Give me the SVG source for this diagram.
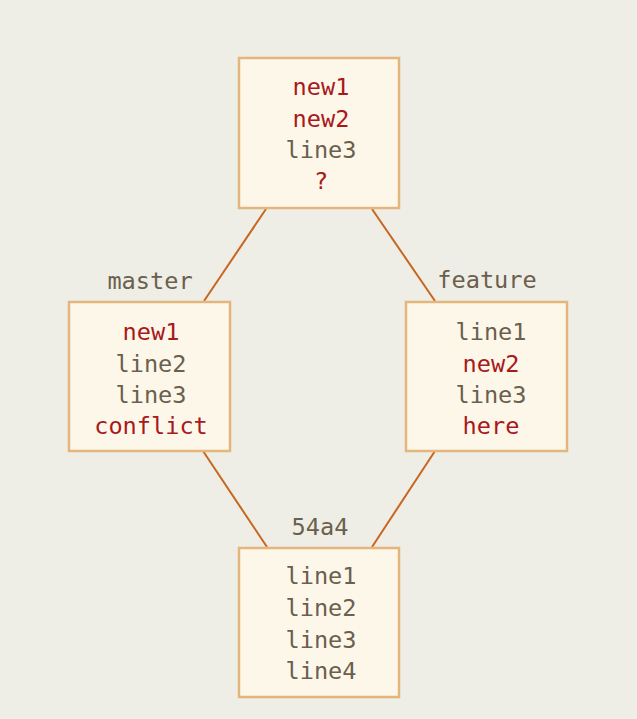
<svg xmlns="http://www.w3.org/2000/svg" width="637" height="719" viewBox="0 0 637 719">
<style>
.box{fill:#fdf7ea;stroke:#e4b67d;stroke-width:2.5}
text{font-family:"DejaVu Sans Mono","Liberation Mono",monospace;font-size:23.6px;text-anchor:middle}
.g{fill:#6b5f4e}
.r{fill:#a8191c}
.edge{stroke:#c8661f;stroke-width:2;fill:none}
</style>
<rect width="637" height="719" fill="#eeeee7"/>
<g id="connectors">
<line class="edge" x1="266" y1="209" x2="204" y2="301"/>
<line class="edge" x1="372" y1="209" x2="435" y2="301"/>
<line class="edge" x1="203" y1="451" x2="267" y2="547"/>
<line class="edge" x1="435" y1="451" x2="372" y2="547"/>
</g>
<g id="merge">
<rect class="box" x="239" y="58" width="160" height="150"/>
<text class="r" x="321" y="95">new1</text>
<text class="r" x="321" y="127">new2</text>
<text class="g" x="321" y="158">line3</text>
<text class="r" x="321" y="189">?</text>
</g>
<g id="master">
<text class="g" x="150" y="289">master</text>
<rect class="box" x="69" y="302" width="161" height="149"/>
<text class="r" x="151" y="340">new1</text>
<text class="g" x="151" y="372">line2</text>
<text class="g" x="151" y="403">line3</text>
<text class="r" x="151" y="434">conflict</text>
</g>
<g id="feature">
<text class="g" x="487" y="288">feature</text>
<rect class="box" x="406" y="302" width="161" height="149"/>
<text class="g" x="491" y="340">line1</text>
<text class="r" x="491" y="372">new2</text>
<text class="g" x="491" y="403">line3</text>
<text class="r" x="491" y="434">here</text>
</g>
<g id="base">
<text class="g" x="320" y="535">54a4</text>
<rect class="box" x="239" y="548" width="160" height="149"/>
<text class="g" x="321" y="584">line1</text>
<text class="g" x="321" y="616">line2</text>
<text class="g" x="321" y="648">line3</text>
<text class="g" x="321" y="679">line4</text>
</g>
</svg>
